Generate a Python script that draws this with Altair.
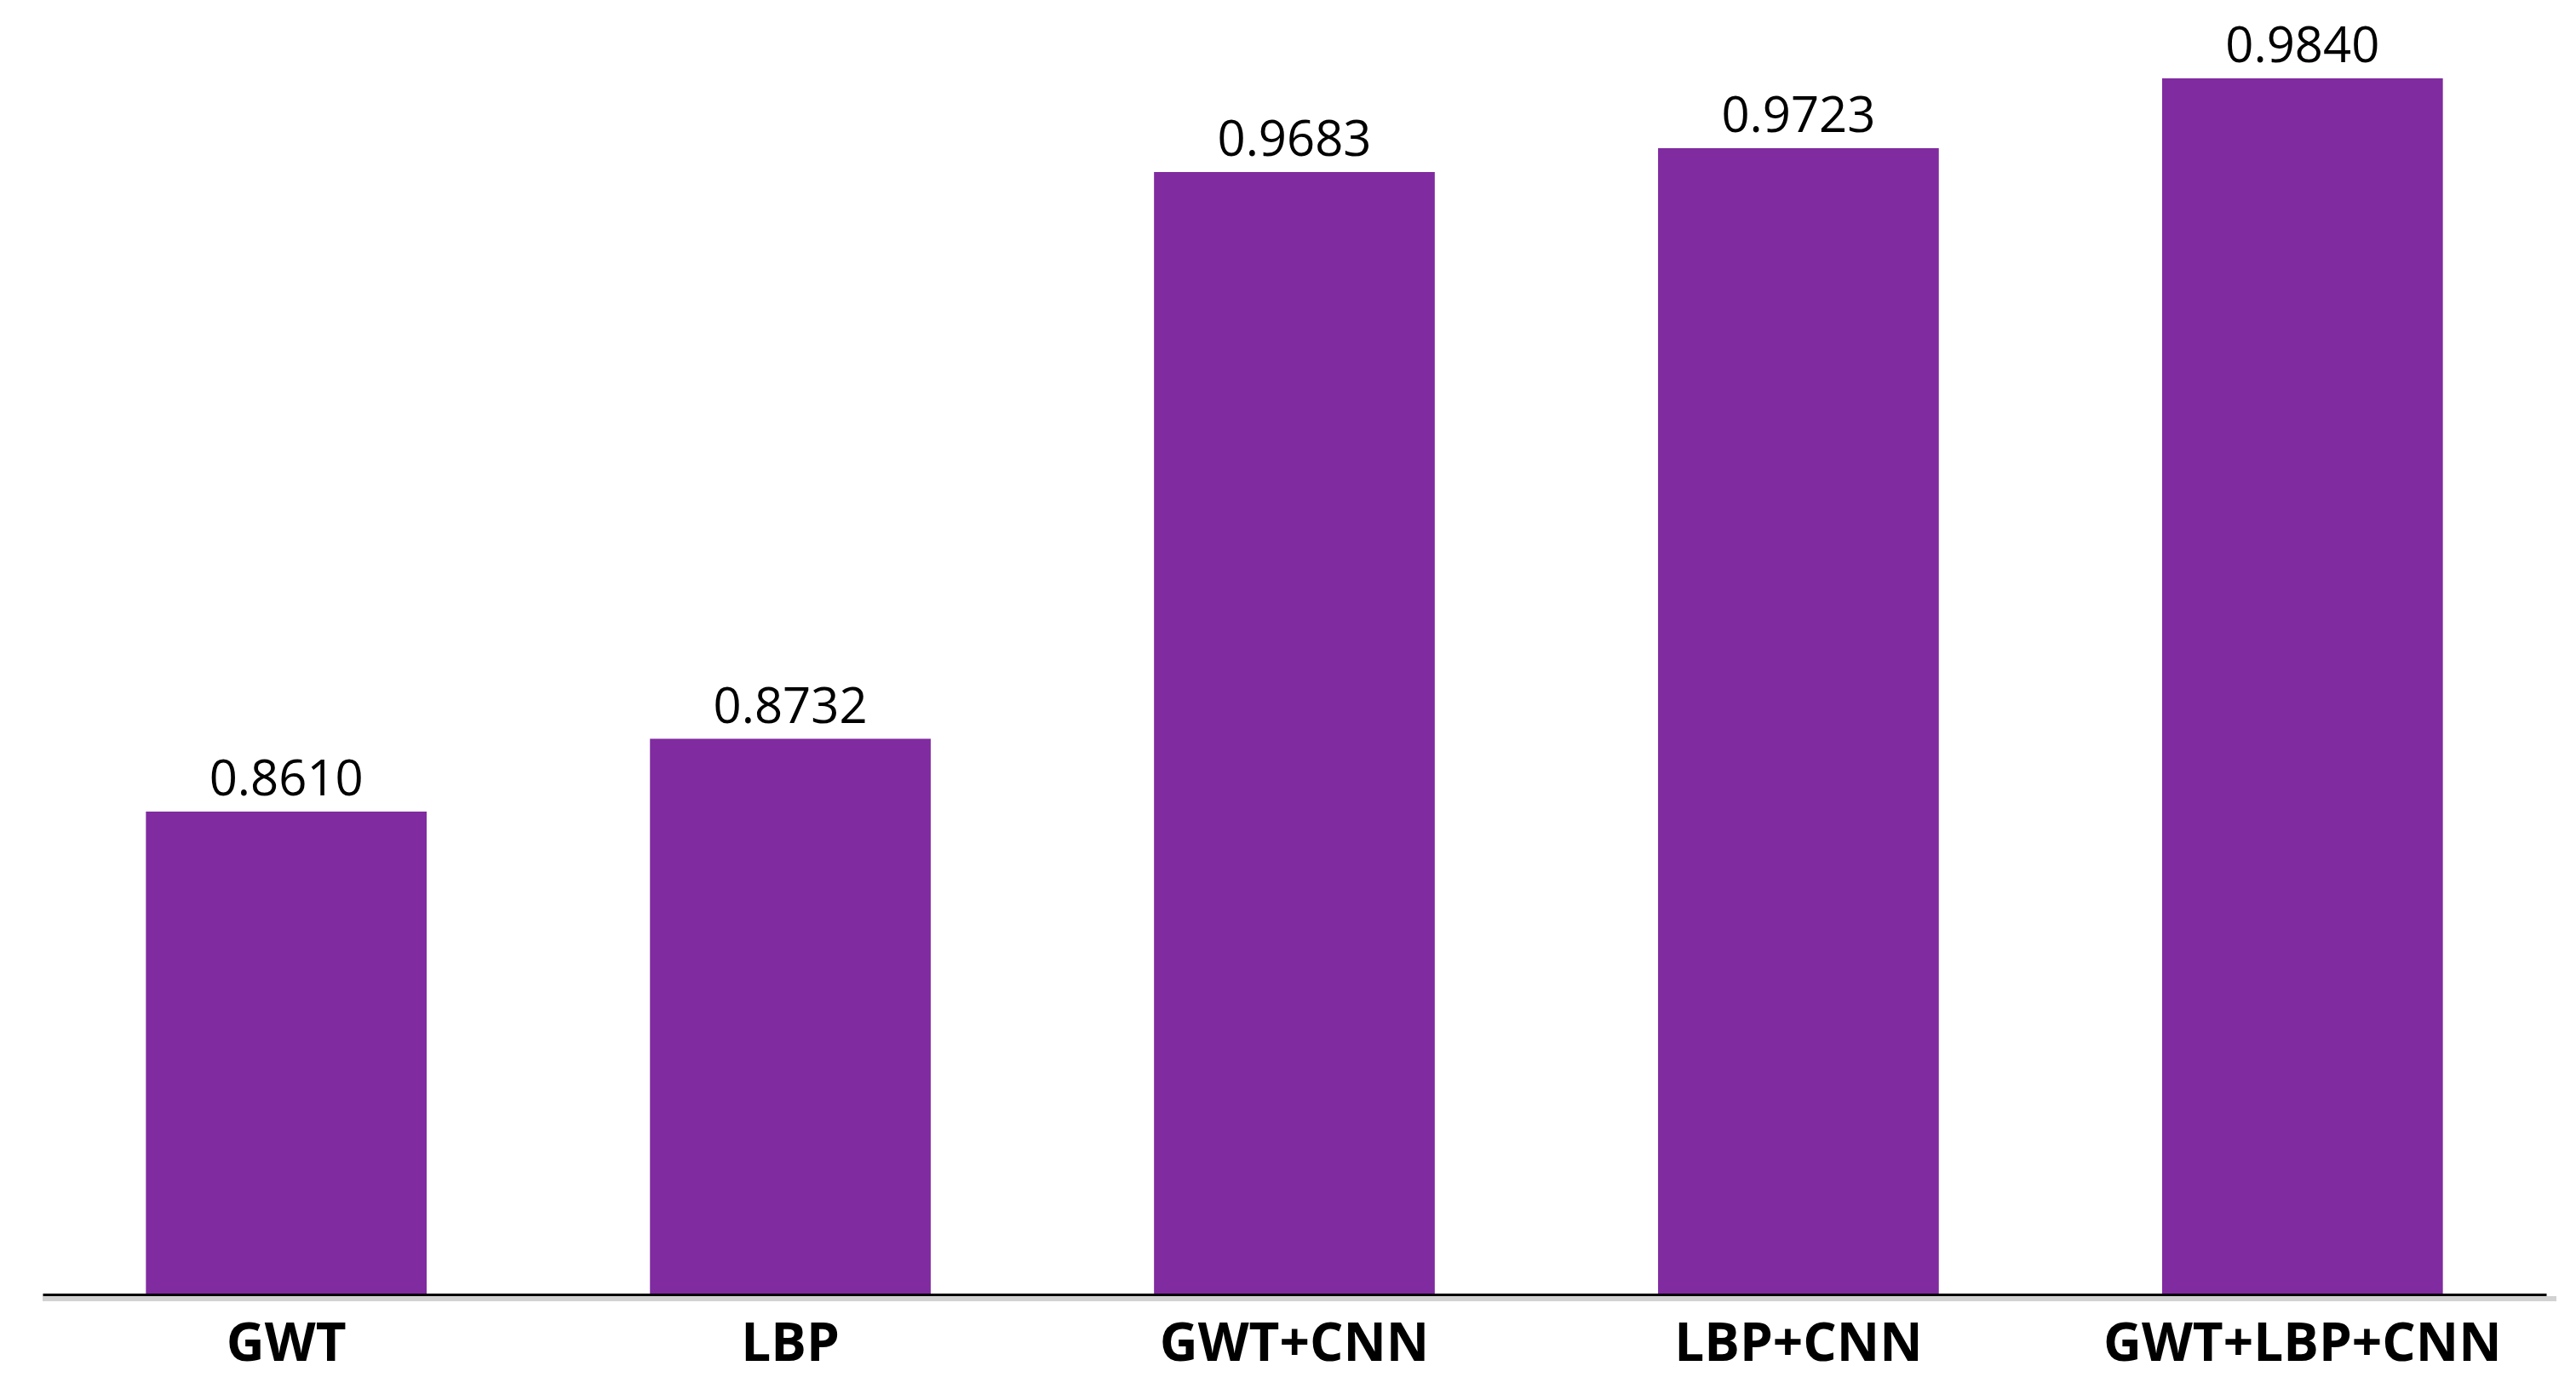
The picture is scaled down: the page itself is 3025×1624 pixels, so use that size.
import altair as alt
import pandas as pd

methods = ["GWT", "LBP", "GWT+CNN", "LBP+CNN", "GWT+LBP+CNN"]
accuracy = [0.8610, 0.8732, 0.9683, 0.9723, 0.9840]
labels = ["0.8610", "0.8732", "0.9683", "0.9723", "0.9840"]

df = pd.DataFrame({"method": methods, "acc": accuracy, "label": labels})

W = 2940
H = 1512
y_min, y_max = 0.78, 0.996

x_enc = alt.X(
    "method:N",
    sort=None,
    scale=alt.Scale(paddingInner=0.443, paddingOuter=0.205),
    axis=alt.Axis(
        title=None,
        labelAngle=0,
        labelFont="Open Sans",
        labelFontSize=62,
        labelFontWeight="bold",
        labelColor="#000000",
        labelPadding=28,
        labelLimit=0,
        ticks=False,
        domain=True,
        domainColor="#000000",
        domainWidth=3,
        zindex=1,
    ),
)
y_scale = alt.Scale(domain=[y_min, y_max], zero=False, nice=False)

base = alt.Chart(df)

shadow = alt.Chart(alt.Data(values=[{}])).mark_rule(
    color="#d2d2d2", strokeWidth=6
).encode(x=alt.value(0), x2=alt.value(W + 12), y=alt.value(H + 5))

bars = base.mark_bar(color="#802BA0").encode(
    x=x_enc,
    y=alt.Y("acc:Q", scale=y_scale, axis=None),
    y2=alt.datum(y_min),
)

text = base.mark_text(
    font="Open Sans",
    fontSize=58,
    color="#000000",
    baseline="alphabetic",
    dy=-19,
).encode(
    x=x_enc,
    y=alt.Y("acc:Q", scale=y_scale, axis=None),
    text="label:N",
)

chart = (
    alt.layer(shadow, bars, text)
    .properties(
        width=W,
        height=H,
        padding={"left": 42, "top": 0, "right": 20, "bottom": 95},
        autosize=alt.AutoSizeParams(type="none"),
        background="#ffffff",
    )
    .configure_view(strokeWidth=0, stroke=None)
)

chart.save("out.html", embed_options={"renderer": "svg", "actions": False})
